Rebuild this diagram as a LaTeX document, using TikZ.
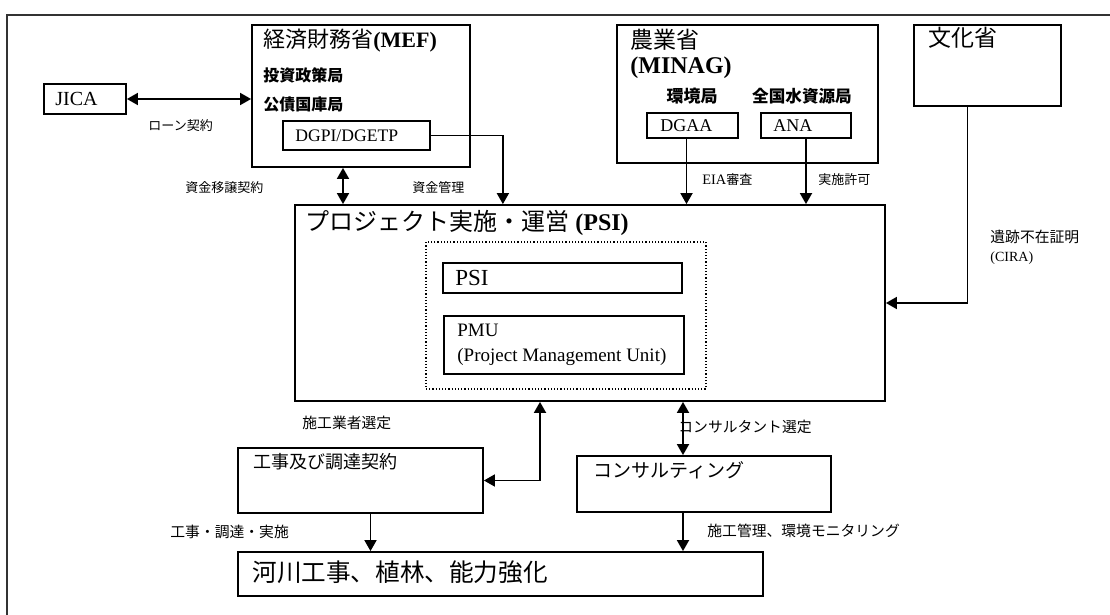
\documentclass[tikz,border=0pt]{standalone}
\usepackage{fontspec}
\setmainfont{Liberation Serif}
\newfontfamily\jpfont{Noto Sans CJK JP}
\usetikzlibrary{arrows.meta,fit,calc}
\tikzset{>={Triangle[length=5.5pt,width=6pt]}}
\tikzset{box/.style={draw,line width=0.9pt,inner sep=0pt},
  txt/.style={anchor=west,inner sep=0pt},
  lbl/.style={anchor=west,inner sep=0pt,font=\jpfont\fontsize{6.5}{8}\selectfont},
  lblb/.style={lbl,font=\jpfont\fontsize{7.4}{9}\selectfont},
  con/.style={line width=0.9pt}}
\newcommand{\jp}[1]{{\jpfont #1}}
\newcommand{\fs}[1]{\fontsize{#1}{#1}\selectfont}

\begin{document}
\begin{tikzpicture}[x=0.5pt,y=-0.5pt]
      \useasboundingbox (0,0) rectangle (1110,615);
      \draw[line width=1pt,black!80] (7,615) -- (7,15) -- (1110,15);
      % boxes
      \node[box,fit={(44,84) (126,114)}] (jica) {};
      \node[box,fit={(252,25) (470,167)}] (mef) {};
      \node[box,fit={(283,121) (430,150)}] (dgpi) {};
      \node[box,fit={(617,25) (878,163)}] (minag) {};
      \node[box,fit={(647,113) (738,138)}] (dgaa) {};
      \node[box,fit={(761,113) (851,138)}] (ana) {};
      \node[box,fit={(914,25) (1061,106)}] (bunka) {};
      \node[box,fit={(295,205) (885,401)}] (psi) {};
      \node[draw,densely dotted,line width=0.6pt,inner sep=0pt,fit={(426,242) (706,389)}] (unit) {};
      \node[box,fit={(443,263) (682,293)}] (psiin) {};
      \node[box,fit={(444,316) (684,374)}] (pmu) {};
      \node[box,fit={(238,448) (483,513)}] (koji) {};
      \node[box,fit={(577,456) (831,512)}] (consul) {};
      \node[box,fit={(238,552) (763,596)}] (river) {};
      % box texts
      \node[txt,font=\fs{10}] (jicat) at (55,99) {JICA};
      \node[txt,font=\fs{11}] (meft) at (263,41) {\jp{経済財務省}\textbf{(MEF)}};
      \node[txt,font=\jpfont\bfseries\fs{8}] (meft2) at (263,75) {投資政策局};
      \node[txt,font=\jpfont\bfseries\fs{8}] (meft3) at (263,104) {公債国庫局};
      \node[txt,font=\fs{8.8}] (dgpit) at (295,135.5) {DGPI/DGETP};
      \node[txt,font=\jpfont\fs{11.5}] (minagt) at (630,40) {農業省};
      \node[txt,font=\bfseries\fs{12}] (minagt2) at (630,68) {(MINAG)};
      \node[anchor=center,inner sep=0pt,font=\jpfont\bfseries\fs{8.5}] (envt) at (692,96) {環境局};
      \node[anchor=center,inner sep=0pt,font=\jpfont\bfseries\fs{8.3}] (watt) at (802,96) {全国水資源局};
      \node[txt,font=\fs{9}] (dgaat) at (660,125.5) {DGAA};
      \node[txt,font=\fs{9}] (anat) at (773,125.5) {ANA};
      \node[txt,font=\jpfont\fs{11.5}] (bunkat) at (928,38) {文化省};
      \node[txt,font=\fs{12}] (psit) at (305,223) {\jp{プロジェクト実施・運営} \textbf{(PSI)}};
      \node[txt,font=\fs{11.5}] (psiint) at (455,278) {PSI};
      \node[txt,align=left,font=\fontsize{9.5}{12.5}\selectfont] (pmut) at (457,345) {PMU\\(Project Management Unit)};
      \node[txt,font=\jpfont\fs{9}] (kojit) at (253,462) {工事及び調達契約};
      \node[txt,font=\jpfont\fs{9.5}] (consult) at (593,470) {コンサルティング};
      \node[txt,font=\jpfont\fs{12.3}] (rivert) at (252,572) {河川工事、植林、能力強化};
      % labels
      \node[lbl] (loan) at (148,126) {ローン契約};
      \node[lbl] (transfer) at (185,188) {資金移譲契約};
      \node[lbl] (fundt) at (412,188) {資金管理};
      \node[lbl] (eiat) at (702,180) {\rmfamily\fs{7.2}EIA\jpfont\fs{6.5}審査};
      \node[lbl] (permit) at (818,180) {実施許可};
      \node[lblb] (ciraj) at (990,237) {遺跡不在証明};
      \node[txt,font=\fs{7}] (cirat) at (990,258) {(CIRA)};
      \node[lblb] (selt) at (302,423) {施工業者選定};
      \node[lblb] (exet) at (170,532) {工事・調達・実施};
      \node[lblb] (cst) at (678,427) {コンサルタント選定};
      \node[lblb] (mont) at (707,531) {施工管理、環境モニタリング};
      % connectors
      \coordinate (mefin) at ($(mef.south)+(-18,0)$);
      \coordinate (fund) at ($(dgpi.east)+(72,0)$);
      \coordinate (eia) at ($(dgaa.south)+(-6,0)$);
      \coordinate (cira) at ($(bunka.south)+(-20,0)$);
      \coordinate (sel) at ($(psi.south)+(-50,0)$);
      \coordinate (cs) at ($(psi.south)+(93,0)$);
      \coordinate (exe) at ($(koji.south)+(10,0)$);
      \draw[con,<->] (jica.east) -- (jica.east -| mef.west);
      \draw[con,<->] (mefin) -- (mefin |- psi.north);
      \draw[con,->] (dgpi.east) -| (fund |- psi.north);
      \draw[con,->] (eia) -- (eia |- psi.north);
      \draw[con,->] (ana.south) -- (ana.south |- psi.north);
      \draw[con,->] (cira) |- (psi.east);
      \draw[con,<->] (sel) |- (koji.east);
      \draw[con,<->] (cs) -- (cs |- consul.north);
      \draw[con,->] (exe) -- (exe |- river.north);
      \draw[con,->] (cs |- consul.south) -- (cs |- river.north);
    \end{tikzpicture}
\end{document}
